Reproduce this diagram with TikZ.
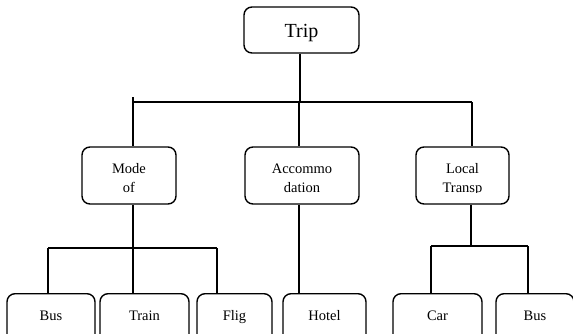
\documentclass[tikz,border=0pt]{standalone}
\usepackage{fontspec}
\setmainfont{Liberation Serif}
\begin{document}
\begin{tikzpicture}[x=1pt,y=-1pt,
  box/.style={draw=black, line width=1.4pt, rounded corners=8pt, fill=white, inner sep=0pt},
  lbl/.style={font=\fontsize{14.5}{16.5}\selectfont, anchor=base, inner sep=0pt},
  conn/.style={draw=black, line width=1.4pt}]
\useasboundingbox (0,0) rectangle (573,333);
\clip (0,0) rectangle (573,333);
% top
\node[box, minimum width=115pt, minimum height=46pt] (trip) at (301.5,30) {};
\node[font=\fontsize{20}{22}\selectfont, anchor=base, inner sep=0pt] (triptxt) at (301.5,37) {Trip};
% level 2 boxes
\node[box, minimum width=94pt, minimum height=57pt] (mode) at (129,175.5) {};
\node[box, minimum width=114pt, minimum height=57pt] (acc) at (302,175.5) {};
\node[box, minimum width=93pt, minimum height=57pt] (loc) at (462.5,175.5) {};
\begin{scope}
  \clip (70,140) rectangle (520,192.3);
  \node[lbl] (modet1) at (129,173.5) {Mode};
  \node[lbl] (modet2) at (129,192.5) {of};
  \node[lbl] (acct1) at (302,173.5) {Accommo};
  \node[lbl] (acct2) at (302,192.5) {dation};
  \node[lbl] (loct1) at (462.5,173.5) {Local};
  \node[lbl] (loct2) at (462.5,192.5) {Transp};
\end{scope}
% level 3 boxes
\node[box, minimum width=88pt, minimum height=60pt, anchor=north] (bus1) at (51,293) {};
\node[box, minimum width=89pt, minimum height=60pt, anchor=north] (train) at (144.5,293) {};
\node[box, minimum width=75pt, minimum height=60pt, anchor=north] (flig) at (234.5,293) {};
\node[box, minimum width=83pt, minimum height=60pt, anchor=north] (hotel) at (324.5,293) {};
\node[box, minimum width=89pt, minimum height=60pt, anchor=north] (car) at (437.5,293) {};
\node[box, minimum width=78pt, minimum height=60pt, anchor=north] (bus2) at (535,293) {};
\node[lbl] (bus1t) at (51,320) {Bus};
\node[lbl] (traint) at (144.5,320) {Train};
\node[lbl] (fligt) at (234.5,320) {Flig};
\node[lbl] (hotelt) at (324.5,320) {Hotel};
\node[lbl] (cart) at (437.5,320) {Car};
\node[lbl] (bus2t) at (535,320) {Bus};
% connectors top level
\coordinate (j0) at (300,102);
\coordinate (jl) at (133,102);
\coordinate (jlt) at (133,97);
\coordinate (jr) at (472,102);
\draw[conn] (trip.south -| j0) -- (j0);
\draw[conn] (jl) -- (jr);
\draw[conn] (jlt) -- (mode.north -| jl);
\coordinate (ja) at (299,102);
\draw[conn] (ja) -- (acc.north -| ja);
\draw[conn] (jr) -- (loc.north -| jr);
% mode branch
\coordinate (m0) at (133,248);
\coordinate (ml) at (48,248);
\coordinate (mr) at (217,248);
\draw[conn] (mode.south -| m0) -- (train.north -| m0);
\draw[conn] (ml) -- (mr);
\draw[conn] (ml) -- (bus1.north -| ml);
\draw[conn] (mr) -- (flig.north -| mr);
% accommodation branch
\coordinate (a0) at (299,250);
\draw[conn] (acc.south -| a0) -- (hotel.north -| a0);
% local branch
\coordinate (l0) at (471,246);
\coordinate (ll) at (431,246);
\coordinate (lr) at (528,246);
\draw[conn] (loc.south -| l0) -- (l0);
\draw[conn] (ll) -- (lr);
\draw[conn] (ll) -- (car.north -| ll);
\draw[conn] (lr) -- (bus2.north -| lr);
\end{tikzpicture}
\end{document}
